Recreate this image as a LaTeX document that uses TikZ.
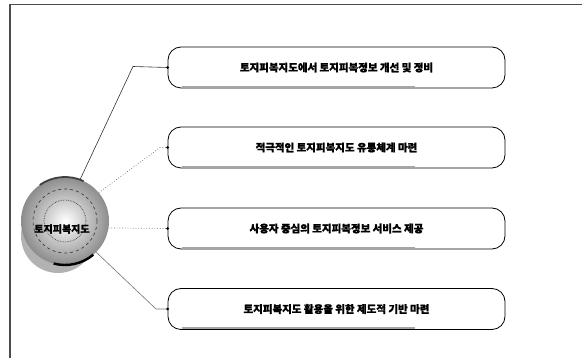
\documentclass[tikz,border=0pt]{standalone}
\usepackage{fontspec}
\newfontfamily\kr{Noto Sans CJK KR}[BoldFeatures={FakeBold=1.2}]
\usetikzlibrary{shapes.geometric}
\tikzset{
  itembox/.style={draw=black, line width=0.8pt, rounded corners=13pt, minimum width=337pt, minimum height=41pt, fill=white, font=\kr\bfseries\fontsize{10.5pt}{12pt}\selectfont, inner sep=0pt},
  conn/.style={line width=0.6pt, draw=black!80},
  dotconn/.style={line width=0.7pt, draw=black!60, dotted},
  pin/.style={circle, fill=black, inner sep=0pt, minimum size=3pt},
}
\begin{document}
\begin{tikzpicture}[x=1pt,y=-1pt]
\useasboundingbox (0,0) rectangle (582,358);
% frame
\draw[line width=1.2pt, black!70] (10,358) -- (10,4.5) -- (582,4.5);
% central ball
\fill[black!30] (58,236) circle (37);
\shade[inner color=white, outer color=black!45] (65,221) circle (44);
\draw[black!75, dashed, line width=0.7pt] (65,221) circle (32);
\draw[black!75, densely dotted, line width=0.7pt] (65,221) circle (21);
\draw[black, line width=2.4pt] (65,221) ++(50:44) arc[start angle=50, end angle=105, radius=44];
\draw[black!75, line width=1.8pt] (65,221) ++(-125:44) arc[start angle=-125, end angle=-65, radius=44];
\node[circle, minimum size=88pt, inner sep=0pt] (c) at (65,221) {};
\node[font=\kr\bfseries\fontsize{10pt}{12pt}\selectfont, inner sep=0pt] (ct) at (62,229) {토지피복지도};
% boxes
\node[itembox] (b1) at (336.5,67.5) {토지피복지도에서 토지피복정보 개선 및 정비};
\node[itembox] (b2) at (336.5,147.5) {적극적인 토지피복지도 유통체계 마련};
\node[itembox] (b3) at (336.5,228.5) {사용자 중심의 토지피복정보 서비스 제공};
\node[itembox] (b4) at (336.5,309) {토지피복지도 활용을 위한 제도적 기반 마련};
% bottom shading of boxes
\foreach \b in {b1,b2,b3,b4}{
  \draw[black!35, line width=1.5pt] ([xshift=14pt,yshift=2pt]\b.south west) -- ([xshift=-90pt,yshift=2pt]\b.south east);
}
% connectors
\coordinate (k1) at (133,66.5);
\coordinate (k2) at (160,147.5);
\coordinate (k4) at (156,309);
\draw[conn] (c.70) -- (k1) -- (b1.west);
\draw[dotconn] (c.40) -- (k2) -- (b2.west);
\draw[dotconn] (c.-9) -- (b3.west);
\draw[conn, black!55] (c.-45) -- (k4) -- (b4.west);
\foreach \b in {b1,b2,b3,b4}{ \node[pin] at (\b.west) {}; }
\end{tikzpicture}
\end{document}
